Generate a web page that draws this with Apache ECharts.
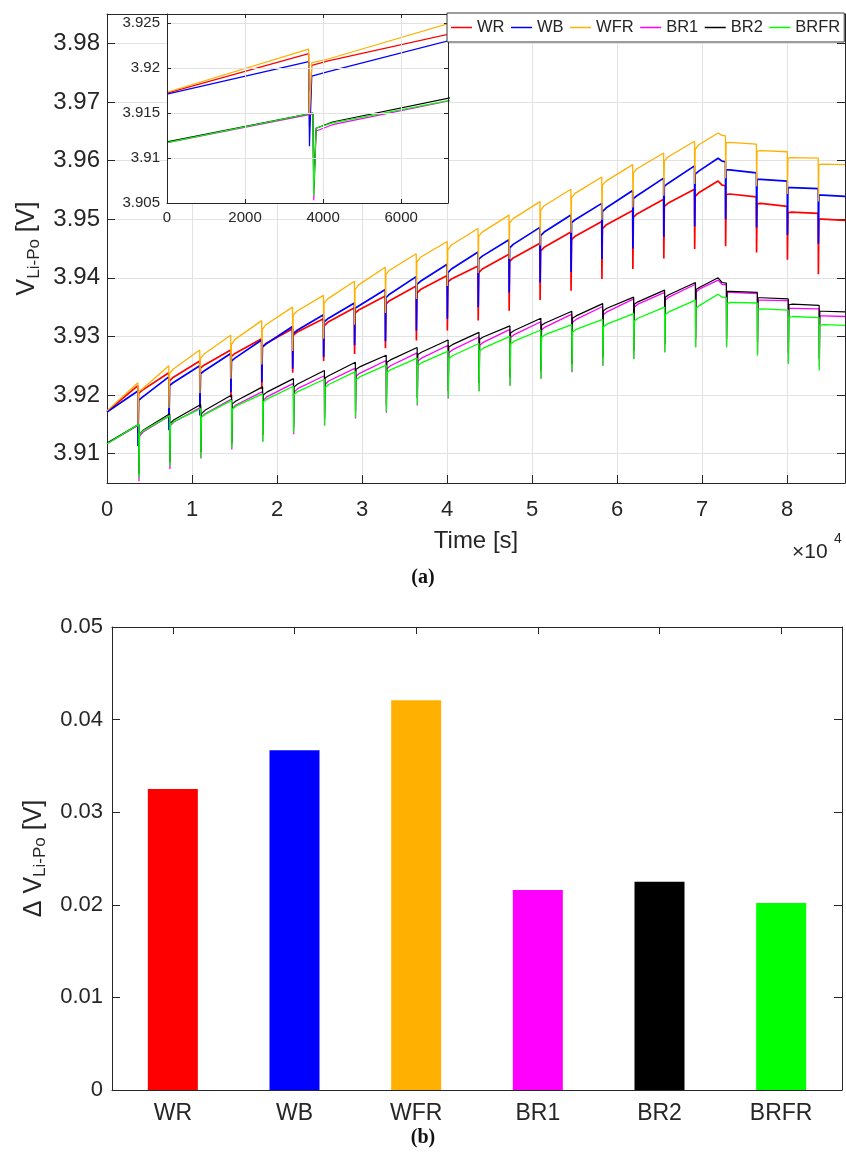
<!DOCTYPE html>
<html>
<head>
<meta charset="utf-8">
<script src="https://cdn.jsdelivr.net/npm/echarts@6/dist/echarts.min.js"></script>
<style>
  html, body { margin: 0; padding: 0; background: #fff; }
  #chart { width: 846px; height: 1155px; }
</style>
</head>
<body>
<div id="chart"></div>
<script>
// ---- cells ----
const seriesNames  = ['WR', 'WB', 'WFR', 'BR1', 'BR2', 'BRFR'];
const seriesColors = ['#ff0000', '#0000ff', '#ffb000', '#ff00ff', '#000000', '#00ff00'];

// ---- timing of the hourly load pulses [s] ----
const pulseTimesW = [3630, 7270, 10910, 14550, 18190, 21820, 25460, 29100, 32730, 36370, 40010, 43640,
                     47280, 50920, 54560, 58190, 61830, 65470, 69100, 72740, 76380, 80010, 83650];
const pulseTimesB = [3740, 7380, 11020, 14660, 18300, 21930, 25570, 29210, 32840, 36480, 40120, 43750,
                     47390, 51030, 54670, 58300, 61940, 65580, 69210, 72850, 76490, 80120, 83760];
const crestTimes = [71870, 72340];   // end of charging, then a small settling step
const crestIndex = 19;               // the pulse that follows the charging crest
const dipLag = 20, recoverLag = 80, settleLag = 500;
const endTime = 86800;

// ---- cell voltages [V]: value before each pulse, pulse minimum, value right after, value ~500 s later ----
const wrStart = 3.9172, wrEnd = 3.9498;
const wrBefore = [3.9216, 3.9238, 3.9258, 3.9277, 3.9296, 3.9313, 3.9330, 3.9349, 3.9369, 3.9386, 3.9404, 3.9420, 3.9440, 3.9459, 3.9478, 3.9496, 3.9515, 3.9534, 3.9551, 3.9557, 3.9538, 3.9522, 3.9510];
const wrDip    = [3.9135, 3.9152, 3.9172, 3.9196, 3.9210, 3.9238, 3.9258, 3.9270, 3.9280, 3.9293, 3.9310, 3.9327, 3.9344, 3.9362, 3.9378, 3.9398, 3.9415, 3.9433, 3.9449, 3.9454, 3.9443, 3.9431, 3.9406];
const wrAfter  = [3.9203, 3.9224, 3.9246, 3.9266, 3.9282, 3.9302, 3.9318, 3.9340, 3.9355, 3.9374, 3.9393, 3.9409, 3.9428, 3.9446, 3.9465, 3.9484, 3.9503, 3.9522, 3.9539, 3.9542, 3.9526, 3.9511, 3.9500];
const wrSettle = [3.9208, 3.9230, 3.9251, 3.9271, 3.9288, 3.9307, 3.9324, 3.9345, 3.9361, 3.9380, 3.9398, 3.9415, 3.9434, 3.9452, 3.9471, 3.9490, 3.9509, 3.9527, 3.9545, 3.9543, 3.9527, 3.9512, 3.9500];
const wrCrest  = [3.9565, 3.9558];

const wbStart = 3.9171, wbEnd = 3.9539;
const wbBefore = [3.9207, 3.9231, 3.9250, 3.9271, 3.9294, 3.9317, 3.9337, 3.9357, 3.9380, 3.9402, 3.9423, 3.9444, 3.9465, 3.9486, 3.9507, 3.9527, 3.9549, 3.9570, 3.9591, 3.9598, 3.9579, 3.9565, 3.9552];
const wbDip    = [3.9113, 3.9140, 3.9165, 3.9205, 3.9222, 3.9245, 3.9265, 3.9285, 3.9292, 3.9310, 3.9330, 3.9350, 3.9375, 3.9392, 3.9410, 3.9432, 3.9450, 3.9470, 3.9488, 3.9500, 3.9486, 3.9473, 3.9458];
const wbAfter  = [3.9191, 3.9216, 3.9236, 3.9258, 3.9282, 3.9305, 3.9325, 3.9348, 3.9366, 3.9389, 3.9409, 3.9432, 3.9451, 3.9472, 3.9494, 3.9513, 3.9535, 3.9556, 3.9577, 3.9584, 3.9568, 3.9554, 3.9541];
const wbSettle = [3.9196, 3.9221, 3.9241, 3.9263, 3.9287, 3.9310, 3.9330, 3.9352, 3.9372, 3.9394, 3.9415, 3.9437, 3.9457, 3.9478, 3.9499, 3.9519, 3.9540, 3.9561, 3.9582, 3.9584, 3.9568, 3.9554, 3.9541];
const wbCrest  = [3.9604, 3.9599];

const wfrStart = 3.9173, wfrEnd = 3.9593;
const wfrBefore = [3.9221, 3.9250, 3.9277, 3.9302, 3.9327, 3.9350, 3.9370, 3.9394, 3.9418, 3.9441, 3.9462, 3.9484, 3.9507, 3.9530, 3.9551, 3.9572, 3.9593, 3.9613, 3.9633, 3.9642, 3.9628, 3.9615, 3.9604];
const wfrDip    = [3.9148, 3.9178, 3.9203, 3.9228, 3.9252, 3.9275, 3.9296, 3.9320, 3.9340, 3.9364, 3.9386, 3.9408, 3.9432, 3.9455, 3.9477, 3.9499, 3.9520, 3.9540, 3.9560, 3.9570, 3.9556, 3.9543, 3.9530];
const wfrAfter  = [3.9206, 3.9236, 3.9262, 3.9286, 3.9312, 3.9336, 3.9357, 3.9380, 3.9406, 3.9427, 3.9448, 3.9471, 3.9494, 3.9515, 3.9537, 3.9558, 3.9579, 3.9599, 3.9619, 3.9630, 3.9616, 3.9604, 3.9593];
const wfrSettle = [3.9210, 3.9244, 3.9270, 3.9295, 3.9320, 3.9343, 3.9364, 3.9388, 3.9413, 3.9435, 3.9456, 3.9478, 3.9501, 3.9523, 3.9544, 3.9565, 3.9586, 3.9606, 3.9627, 3.9631, 3.9617, 3.9605, 3.9594];
const wfrCrest  = [3.9647, 3.9643];

const br1Start = 3.9117, br1End = 3.9334;
const br1Before = [3.9149, 3.9165, 3.9179, 3.9193, 3.9206, 3.9220, 3.9233, 3.9246, 3.9259, 3.9272, 3.9285, 3.9299, 3.9312, 3.9325, 3.9338, 3.9351, 3.9364, 3.9375, 3.9389, 3.9388, 3.9373, 3.9361, 3.9347];
const br1Dip    = [3.9053, 3.9074, 3.9092, 3.9107, 3.9121, 3.9133, 3.9148, 3.9160, 3.9170, 3.9182, 3.9194, 3.9207, 3.9216, 3.9228, 3.9239, 3.9250, 3.9262, 3.9273, 3.9282, 3.9284, 3.9270, 3.9255, 3.9248];
const br1After  = [3.9130, 3.9148, 3.9162, 3.9177, 3.9191, 3.9205, 3.9218, 3.9232, 3.9245, 3.9258, 3.9272, 3.9285, 3.9298, 3.9311, 3.9324, 3.9337, 3.9350, 3.9362, 3.9376, 3.9375, 3.9362, 3.9348, 3.9335];
const br1Settle = [3.9137, 3.9154, 3.9168, 3.9183, 3.9197, 3.9211, 3.9224, 3.9237, 3.9250, 3.9263, 3.9277, 3.9290, 3.9303, 3.9316, 3.9329, 3.9342, 3.9355, 3.9367, 3.9381, 3.9375, 3.9362, 3.9348, 3.9335];
const br1Crest  = [3.9396, 3.9389];

const br2Start = 3.9118, br2End = 3.9342;
const br2Before = [3.9150, 3.9168, 3.9184, 3.9200, 3.9214, 3.9228, 3.9242, 3.9256, 3.9268, 3.9281, 3.9294, 3.9307, 3.9318, 3.9331, 3.9343, 3.9356, 3.9367, 3.9379, 3.9392, 3.9391, 3.9375, 3.9364, 3.9353];
const br2Dip    = [3.9066, 3.9086, 3.9103, 3.9118, 3.9132, 3.9145, 3.9160, 3.9172, 3.9183, 3.9195, 3.9207, 3.9220, 3.9231, 3.9242, 3.9253, 3.9264, 3.9275, 3.9287, 3.9296, 3.9296, 3.9290, 3.9272, 3.9262];
const br2After  = [3.9133, 3.9152, 3.9168, 3.9185, 3.9200, 3.9214, 3.9229, 3.9244, 3.9256, 3.9269, 3.9282, 3.9295, 3.9306, 3.9319, 3.9331, 3.9344, 3.9355, 3.9367, 3.9380, 3.9377, 3.9366, 3.9354, 3.9343];
const br2Settle = [3.9140, 3.9158, 3.9174, 3.9190, 3.9205, 3.9219, 3.9233, 3.9248, 3.9260, 3.9273, 3.9286, 3.9299, 3.9310, 3.9323, 3.9335, 3.9348, 3.9359, 3.9371, 3.9384, 3.9377, 3.9366, 3.9355, 3.9343];
const br2Crest  = [3.9400, 3.9392];

const brfrStart = 3.9117, brfrEnd = 3.9319;
const brfrBefore = [3.9150, 3.9165, 3.9177, 3.9191, 3.9202, 3.9215, 3.9227, 3.9240, 3.9251, 3.9263, 3.9275, 3.9288, 3.9300, 3.9311, 3.9320, 3.9329, 3.9339, 3.9350, 3.9362, 3.9366, 3.9357, 3.9345, 3.9332];
const brfrDip    = [3.9058, 3.9079, 3.9093, 3.9110, 3.9120, 3.9136, 3.9148, 3.9162, 3.9172, 3.9184, 3.9196, 3.9206, 3.9216, 3.9228, 3.9240, 3.9250, 3.9261, 3.9273, 3.9281, 3.9281, 3.9267, 3.9253, 3.9242];
const brfrAfter  = [3.9133, 3.9150, 3.9162, 3.9176, 3.9188, 3.9201, 3.9213, 3.9226, 3.9238, 3.9250, 3.9262, 3.9275, 3.9287, 3.9298, 3.9307, 3.9316, 3.9326, 3.9337, 3.9348, 3.9356, 3.9346, 3.9332, 3.9319];
const brfrSettle = [3.9139, 3.9155, 3.9167, 3.9181, 3.9193, 3.9206, 3.9218, 3.9231, 3.9243, 3.9255, 3.9267, 3.9280, 3.9292, 3.9303, 3.9312, 3.9321, 3.9331, 3.9342, 3.9353, 3.9358, 3.9347, 3.9334, 3.9320];
const brfrCrest  = [3.9372, 3.9367];

// ---- total voltage rise per cell [V] ----
const deltaV = [0.0325, 0.0367, 0.0421, 0.0216, 0.0225, 0.0202];

// ---- assemble each voltage trace as [time, voltage] pairs ----
function buildTrace(times, start, before, dip, after, settle, crest, end) {
  const pts = [[0, start]];
  times.forEach((t, k) => {
    if (k === crestIndex) {
      pts.push([crestTimes[0], crest[0]], [crestTimes[1], crest[1]]);
    }
    pts.push([t, before[k]], [t + dipLag, dip[k]], [t + recoverLag, after[k]], [t + settleLag, settle[k]]);
  });
  pts.push([endTime, end]);
  return pts;
}

const traces = [
  buildTrace(pulseTimesW, wrStart, wrBefore, wrDip, wrAfter, wrSettle, wrCrest, wrEnd),
  buildTrace(pulseTimesW, wbStart, wbBefore, wbDip, wbAfter, wbSettle, wbCrest, wbEnd),
  buildTrace(pulseTimesW, wfrStart, wfrBefore, wfrDip, wfrAfter, wfrSettle, wfrCrest, wfrEnd),
  buildTrace(pulseTimesB, br1Start, br1Before, br1Dip, br1After, br1Settle, br1Crest, br1End),
  buildTrace(pulseTimesB, br2Start, br2Before, br2Dip, br2After, br2Settle, br2Crest, br2End),
  buildTrace(pulseTimesB, brfrStart, brfrBefore, brfrDip, brfrAfter, brfrSettle, brfrCrest, brfrEnd)
];

// ---- styling ----
const FONT = '"Liberation Sans", Arial, Helvetica, sans-serif';
const SERIF = '"Liberation Serif", "Times New Roman", serif';
const INK = '#262626';
const GRIDLINE = '#e2e2e2';
const lineWidths = [1.7, 1.7, 1.3, 1.3, 1.2, 1.3];

const mainRect  = { left: 107, top: 14, width: 738, height: 469 };
const insetRect = { left: 167, top: 14, width: 281, height: 189 };
const barRect   = { left: 112, top: 627, width: 730, height: 463 };

const tickIn = (len) => ({ show: true, inside: true, length: len, lineStyle: { color: INK, width: 1 } });
const inkLine = { show: true, onZero: false, lineStyle: { color: INK, width: 1 } };
const fmtVolt = v => v.toFixed(2);
const fmtInset = v => String(parseFloat(v.toFixed(3)));

const chart = echarts.init(document.getElementById('chart'), null, { renderer: 'canvas' });

const option = {
  animation: false,
  backgroundColor: '#fff',
  textStyle: { fontFamily: FONT },
  grid: [
    Object.assign({}, mainRect),
    Object.assign({}, insetRect),
    Object.assign({}, barRect)
  ],
  legend: {
    data: seriesNames,
    left: 447, top: 13,
    orient: 'horizontal',
    icon: 'rect',
    itemWidth: 21, itemHeight: 1.5, itemGap: 6.5,
    padding: [5, 4, 5, 4],
    backgroundColor: '#fff',
    borderColor: '#3a3a3a', borderWidth: 1,
    textStyle: { fontFamily: FONT, fontSize: 16.5, color: INK, lineHeight: 19 },
    selectedMode: false,
    z: 8
  },
  xAxis: [
    { // main bottom
      gridIndex: 0, type: 'value', min: 0, max: endTime, interval: 10000,
      axisLine: inkLine, axisTick: tickIn(8),
      axisLabel: { show: true, formatter: v => String(v / 10000), showMaxLabel: false,
                   fontSize: 22, color: INK, margin: 16, fontFamily: FONT },
      splitLine: { show: true, lineStyle: { color: GRIDLINE, width: 1 } },
      name: 'Time [s]', nameLocation: 'middle', nameGap: 46,
      nameTextStyle: { fontSize: 24, color: INK, fontFamily: FONT }
    },
    { // main top frame
      gridIndex: 0, type: 'value', position: 'top', min: 0, max: endTime, interval: 10000,
      axisLine: inkLine, axisTick: tickIn(8), axisLabel: { show: false }, splitLine: { show: false }
    },
    { // inset bottom
      gridIndex: 1, type: 'value', min: 0, max: 7200, interval: 2000, z: 7,
      axisLine: inkLine, axisTick: tickIn(4),
      axisLabel: { show: true, formatter: v => String(v), showMaxLabel: false,
                   fontSize: 15, color: INK, margin: 7, fontFamily: FONT },
      splitLine: { show: true, lineStyle: { color: GRIDLINE, width: 1 } }
    },
    { // inset top frame
      gridIndex: 1, type: 'value', position: 'top', min: 0, max: 7200, interval: 2000, z: 7,
      axisLine: inkLine, axisTick: tickIn(4), axisLabel: { show: false }, splitLine: { show: false }
    },
    { // bar categories
      gridIndex: 2, type: 'category', data: seriesNames,
      axisLine: inkLine, axisTick: Object.assign(tickIn(7), { alignWithLabel: true }),
      axisLabel: { show: true, fontSize: 23, color: INK, margin: 12, fontFamily: FONT },
      splitLine: { show: false }
    },
    { // bar top frame
      gridIndex: 2, type: 'category', data: seriesNames, position: 'top',
      axisLine: inkLine, axisTick: Object.assign(tickIn(7), { alignWithLabel: true }),
      axisLabel: { show: false }, splitLine: { show: false }
    }
  ],
  yAxis: [
    { // main left
      gridIndex: 0, type: 'value', min: 3.905, max: 3.985, splitNumber: 8,
      axisLine: inkLine, axisTick: tickIn(8),
      axisLabel: { show: true, formatter: fmtVolt, showMinLabel: false, showMaxLabel: false,
                   fontSize: 24, color: INK, margin: 7, fontFamily: FONT },
      splitLine: { show: true, lineStyle: { color: GRIDLINE, width: 1 } },
      name: '{m|V}{s|Li-Po}{m| [V]}', nameLocation: 'middle', nameGap: 60,
      nameTextStyle: {
        rich: {
          m: { fontSize: 25, color: INK, fontFamily: FONT },
          s: { fontSize: 17, color: INK, fontFamily: FONT, padding: [14, 0, 0, 0] }
        }
      }
    },
    { // main right frame
      gridIndex: 0, type: 'value', position: 'right', min: 3.905, max: 3.985, splitNumber: 8,
      axisLine: inkLine, axisTick: tickIn(8), axisLabel: { show: false }, splitLine: { show: false }
    },
    { // inset left
      gridIndex: 1, type: 'value', min: 3.905, max: 3.926, interval: 0.005, z: 7,
      axisLine: inkLine, axisTick: tickIn(4),
      axisLabel: { show: true, formatter: fmtInset, showMaxLabel: false,
                   fontSize: 15, color: INK, margin: 7, fontFamily: FONT },
      splitLine: { show: true, lineStyle: { color: GRIDLINE, width: 1 } }
    },
    { // inset right frame
      gridIndex: 1, type: 'value', position: 'right', min: 3.905, max: 3.926, interval: 0.005, z: 7,
      axisLine: inkLine, axisTick: tickIn(4), axisLabel: { show: false }, splitLine: { show: false }
    },
    { // bar values
      gridIndex: 2, type: 'value', min: 0, max: 0.05, interval: 0.01,
      axisLine: inkLine, axisTick: tickIn(8),
      axisLabel: { show: true, formatter: v => (v === 0 ? '0' : v.toFixed(2)),
                   fontSize: 22, color: INK, margin: 9, fontFamily: FONT },
      splitLine: { show: false },
      name: '{m|\u0394 V}{s|Li-Po}{m| [V]}', nameLocation: 'middle', nameGap: 58,
      nameTextStyle: {
        rich: {
          m: { fontSize: 25, color: INK, fontFamily: FONT },
          s: { fontSize: 17, color: INK, fontFamily: FONT, padding: [14, 0, 0, 0] }
        }
      }
    },
    { // bar right frame
      gridIndex: 2, type: 'value', position: 'right', min: 0, max: 0.05, interval: 0.01,
      axisLine: inkLine, axisTick: tickIn(8), axisLabel: { show: false }, splitLine: { show: false }
    }
  ],
  graphic: [
    { // backdrop of the zoomed-in panel
      type: 'rect', z: 5, silent: true,
      shape: { x: insetRect.left, y: insetRect.top, width: insetRect.width, height: insetRect.height },
      style: { fill: '#fff' }
    },
    { type: 'text', left: 792, top: 542, z: 9,
      style: { text: '\u00d710', fontSize: 21, fontFamily: FONT, fill: INK } },
    { type: 'text', left: 834, top: 532, z: 9,
      style: { text: '4', fontSize: 14, fontFamily: FONT, fill: INK } },
    { type: 'text', left: 'center', top: 568, z: 9,
      style: { text: '(a)', fontSize: 20, fontWeight: 'bold', fontFamily: SERIF, fill: '#111' } },
    { type: 'text', left: 'center', top: 1128, z: 9,
      style: { text: '(b)', fontSize: 20, fontWeight: 'bold', fontFamily: SERIF, fill: '#111' } }
  ],
  series: []
};

// full-day traces
traces.forEach((d, i) => {
  option.series.push({
    type: 'line', name: seriesNames[i], xAxisIndex: 0, yAxisIndex: 0, data: d,
    symbol: 'none', showSymbol: false, z: 2,
    lineStyle: { color: seriesColors[i], width: lineWidths[i] },
    itemStyle: { color: seriesColors[i] }
  });
});
// first two hours, zoomed
traces.forEach((d, i) => {
  option.series.push({
    type: 'line', name: seriesNames[i], xAxisIndex: 2, yAxisIndex: 2, data: d,
    symbol: 'none', showSymbol: false, z: 6, clip: true,
    lineStyle: { color: seriesColors[i], width: 1.2 },
    itemStyle: { color: seriesColors[i] }
  });
});
// voltage rise per cell
option.series.push({
  type: 'bar', name: '\u0394V', xAxisIndex: 4, yAxisIndex: 4, barWidth: 50,
  data: deltaV.map((v, i) => ({ value: v, itemStyle: { color: seriesColors[i] } }))
});

chart.setOption(option);
</script>
</body>
</html>
